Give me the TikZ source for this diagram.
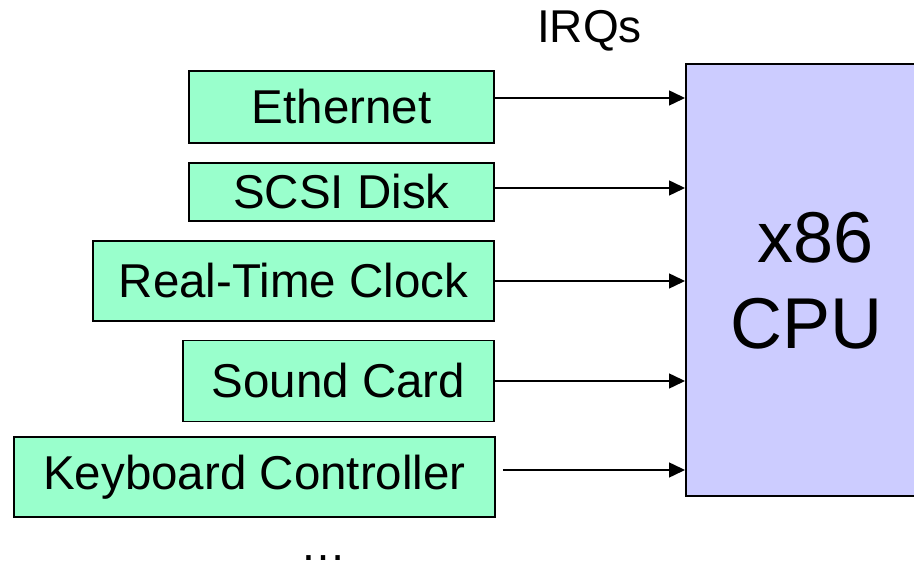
\documentclass[tikz,border=0pt]{standalone}
\usepackage{fontspec}
\setmainfont{Liberation Sans}
\usetikzlibrary{arrows.meta}

\definecolor{devgreen}{HTML}{99FFCC}
\definecolor{cpublue}{HTML}{CCCCFF}

\begin{document}
\begin{tikzpicture}[x=1pt,y=1pt,
  device/.style={draw=black, line width=1.5pt, fill=devgreen, inner sep=0pt,
                 font=\fontsize{47.5}{54}\selectfont},
  cpubox/.style={draw=black, line width=1.5pt, fill=cpublue, inner sep=0pt,
                 anchor=south west, minimum width=242pt, minimum height=432pt,
                 align=center, font=\fontsize{72}{86}\selectfont},
  irq/.style={line width=1.5pt, -{Triangle[length=16pt,width=15pt]}},
  caption/.style={font=\fontsize{46}{52}\selectfont, inner sep=0pt, anchor=base}
]
\useasboundingbox (0,0) rectangle (914,565);
\clip (0,0) rectangle (914,565);

% processor
\node[cpubox] (cpu) at (685,68) {\hspace*{18pt}x86\\CPU};

% interrupting devices
\node[device, minimum width=305pt, minimum height=72pt] (eth)  at (341.5,458) {Ethernet};
\node[device, minimum width=305pt, minimum height=58pt] (scsi) at (341.5,373) {SCSI Disk};
\node[device, minimum width=401pt, minimum height=80pt] (rtc)  at (293.5,284) {Real-Time Clock};
\node[device, minimum width=311pt, minimum height=81pt] (snd)  at (338.5,184) {Sound Card};
\node[device, minimum width=481pt, minimum height=80pt] (kbd)  at (254.5,88)  {Keyboard Controller};

% labels
\node[caption] (irqs) at (589.5,522) {IRQs};
\node[caption] (more) at (323,4) {…};

% interrupt request lines
\coordinate (e1) at ([yshift=9pt]eth.east);
\coordinate (s1) at ([yshift=4pt]scsi.east);
\coordinate (r1) at (rtc.east);
\coordinate (c1) at (snd.east);
\coordinate (k1) at ([xshift=7pt,yshift=7pt]kbd.east);

\draw[irq] (e1) -- (e1 -| cpu.west);
\draw[irq] (s1) -- (s1 -| cpu.west);
\draw[irq] (r1) -- (r1 -| cpu.west);
\draw[irq] (c1) -- (c1 -| cpu.west);
\draw[irq] (k1) -- (k1 -| cpu.west);
\end{tikzpicture}
\end{document}
